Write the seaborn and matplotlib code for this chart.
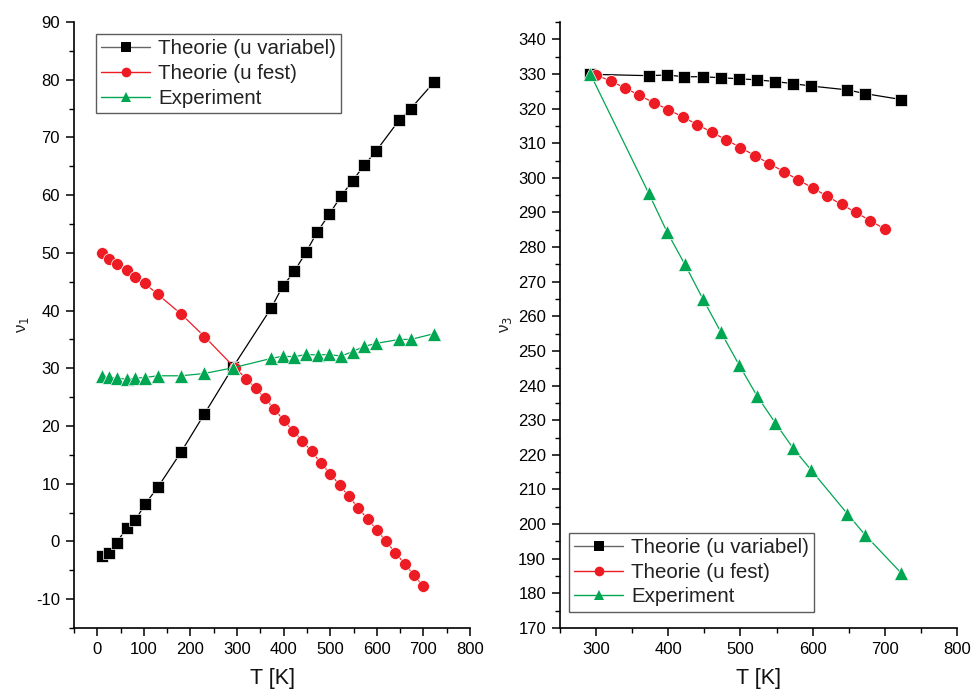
import matplotlib
matplotlib.use("Agg")
import matplotlib.pyplot as plt
import seaborn as sns
import pandas as pd
from matplotlib.ticker import MultipleLocator
from matplotlib.lines import Line2D

sns.set_theme(style="white")
plt.rcParams['font.family'] = ['Liberation Sans', 'DejaVu Sans']
plt.rcParams['axes.unicode_minus'] = False

series_names = ["Theorie (u variabel)", "Theorie (u fest)", "Experiment"]
colors = {"Theorie (u variabel)": "#000000", "Theorie (u fest)": "#ED1C24", "Experiment": "#00A651"}
markers = {"Theorie (u variabel)": "s", "Theorie (u fest)": "o", "Experiment": "^"}

# Left panel (nu_1)
T1_var = [10, 25, 42, 63, 82, 102, 130, 180, 230, 292, 373, 398, 423, 448, 472, 498, 523, 548, 573, 598, 648, 673, 723]
v1_var = [-2.5, -2.0, -0.2, 2.4, 3.7, 6.4, 9.4, 15.5, 22.1, 30.3, 40.4, 44.2, 46.8, 50.1, 53.6, 56.7, 59.8, 62.5, 65.2, 67.6, 73.0, 75.0, 79.6]
T1_fest = [10, 25, 42, 63, 82, 102, 130, 180, 230, 295, 320, 340, 360, 380, 400, 420, 440, 460, 480, 500, 520, 540, 560, 580, 600, 620, 640, 660, 680, 700]
v1_fest = [49.9, 48.9, 48.1, 47.0, 45.9, 44.7, 42.8, 39.4, 35.5, 30.1, 28.2, 26.5, 24.8, 22.9, 21.0, 19.2, 17.4, 15.6, 13.6, 11.7, 9.8, 7.8, 5.8, 3.9, 2.0, 0.0, -2.0, -3.9, -5.85, -7.8]
T1_exp = [10, 25, 42, 63, 82, 102, 130, 180, 230, 292, 373, 398, 423, 448, 473, 498, 523, 548, 573, 598, 648, 673, 723]
v1_exp = [28.6, 28.5, 28.3, 28.1, 28.3, 28.4, 28.7, 28.7, 29.1, 30.1, 31.7, 32.1, 32.0, 32.4, 32.3, 32.4, 32.1, 32.9, 33.8, 34.3, 35.0, 35.0, 36.0]

# Right panel (nu_3)
T3_var = [292, 373, 398, 422, 448, 473, 498, 523, 548, 573, 598, 648, 673, 723]
v3_var = [329.9, 329.5, 329.7, 329.2, 329.2, 328.9, 328.6, 328.3, 327.8, 327.2, 326.5, 325.4, 324.3, 322.6]
T3_fest = [300, 320, 340, 360, 380, 400, 420, 440, 460, 480, 500, 520, 540, 560, 580, 600, 620, 640, 660, 680, 700]
v3_fest = [329.8, 327.9, 326.0, 323.8, 321.7, 319.7, 317.6, 315.4, 313.2, 311.0, 308.75, 306.4, 304.1, 301.8, 299.4, 297.1, 294.7, 292.3, 290.0, 287.6, 285.2]
T3_exp = [292, 373, 398, 423, 448, 473, 498, 523, 548, 573, 598, 648, 673, 723]
v3_exp = [330.0, 295.5, 284.5, 275.0, 265.0, 255.4, 246.0, 237.0, 229.3, 221.9, 215.6, 203.0, 196.8, 185.8]


def make_df(ts, vs):
    rows = []
    for name, T, v in zip(series_names, ts, vs):
        for a, b in zip(T, v):
            rows.append({"T": a, "v": b, "series": name})
    return pd.DataFrame(rows)


df1 = make_df([T1_var, T1_fest, T1_exp], [v1_var, v1_fest, v1_exp])
df3 = make_df([T3_var, T3_fest, T3_exp], [v3_var, v3_fest, v3_exp])

fig = plt.figure(figsize=(9.71, 6.89), dpi=100)
ax1 = fig.add_axes([74 / 971, 61 / 689, 396 / 971, 606 / 689])
ax2 = fig.add_axes([560 / 971, 61 / 689, 397 / 971, 606 / 689])

marker_sizes = {"s": 8.0, "o": 8.6, "^": 9.6}

for ax, df in [(ax1, df1), (ax2, df3)]:
    sns.lineplot(data=df, x="T", y="v", hue="series", style="series",
                 hue_order=series_names, style_order=series_names,
                 palette=colors, markers=markers, dashes=False,
                 markersize=8, markeredgewidth=0.5, markeredgecolor="white",
                 linewidth=0.9, sort=False, ax=ax, legend=False, zorder=3)
    for ln in ax.lines:
        m = ln.get_marker()
        if m in marker_sizes:
            ln.set_markersize(marker_sizes[m])

ax1.set_xlim(-50, 800)
ax1.set_ylim(-15, 90)
ax1.yaxis.set_major_locator(MultipleLocator(10))
ax1.yaxis.set_minor_locator(MultipleLocator(5))
ax2.set_xlim(250, 800)
ax2.set_ylim(170, 345)
ax2.yaxis.set_major_locator(MultipleLocator(10))
ax2.yaxis.set_minor_locator(MultipleLocator(5))

for ax in (ax1, ax2):
    ax.xaxis.set_major_locator(MultipleLocator(100))
    ax.xaxis.set_minor_locator(MultipleLocator(50))
    for s in ("top", "right"):
        ax.spines[s].set_visible(False)
    for s in ("left", "bottom"):
        ax.spines[s].set_color("black")
        ax.spines[s].set_linewidth(1.2)
    ax.tick_params(which="major", direction="out", length=6, width=1.1, colors="black",
                   labelsize=12, left=True, bottom=True, pad=4)
    ax.tick_params(which="minor", direction="out", length=3.5, width=1.0, colors="black",
                   left=True, bottom=True)
    ax.set_xlabel("T [K]", fontsize=15.5, labelpad=8, color="#111111")
    ax.grid(False)

ax1.set_ylabel("ν$_1$", fontsize=12, labelpad=4, color="#222222")
ax2.set_ylabel("ν$_3$", fontsize=12, labelpad=3, color="#222222")

handles = [Line2D([0], [0], color=colors[n], marker=markers[n], markersize=7,
                  linewidth=1.0, markeredgewidth=0) for n in series_names]
handles[0].set_color("#666666")
handles[0].set_markerfacecolor("#000000")
handles[0].set_markeredgecolor("#000000")

for ax, loc, anchor in [(ax1, "upper left", (0.055, 0.98)), (ax2, "lower left", (0.022, 0.027))]:
    leg = ax.legend(handles, series_names, loc=loc, bbox_to_anchor=anchor,
                    fontsize=14.8, frameon=True, fancybox=False, handlelength=2.4,
                    handletextpad=0.4, labelspacing=0.28, borderpad=0.25, borderaxespad=0)
    leg.get_frame().set_edgecolor("#333333")
    leg.get_frame().set_linewidth(1.0)
    for t in leg.get_texts():
        t.set_color("#222222")

fig.savefig("out.png", dpi=100)
